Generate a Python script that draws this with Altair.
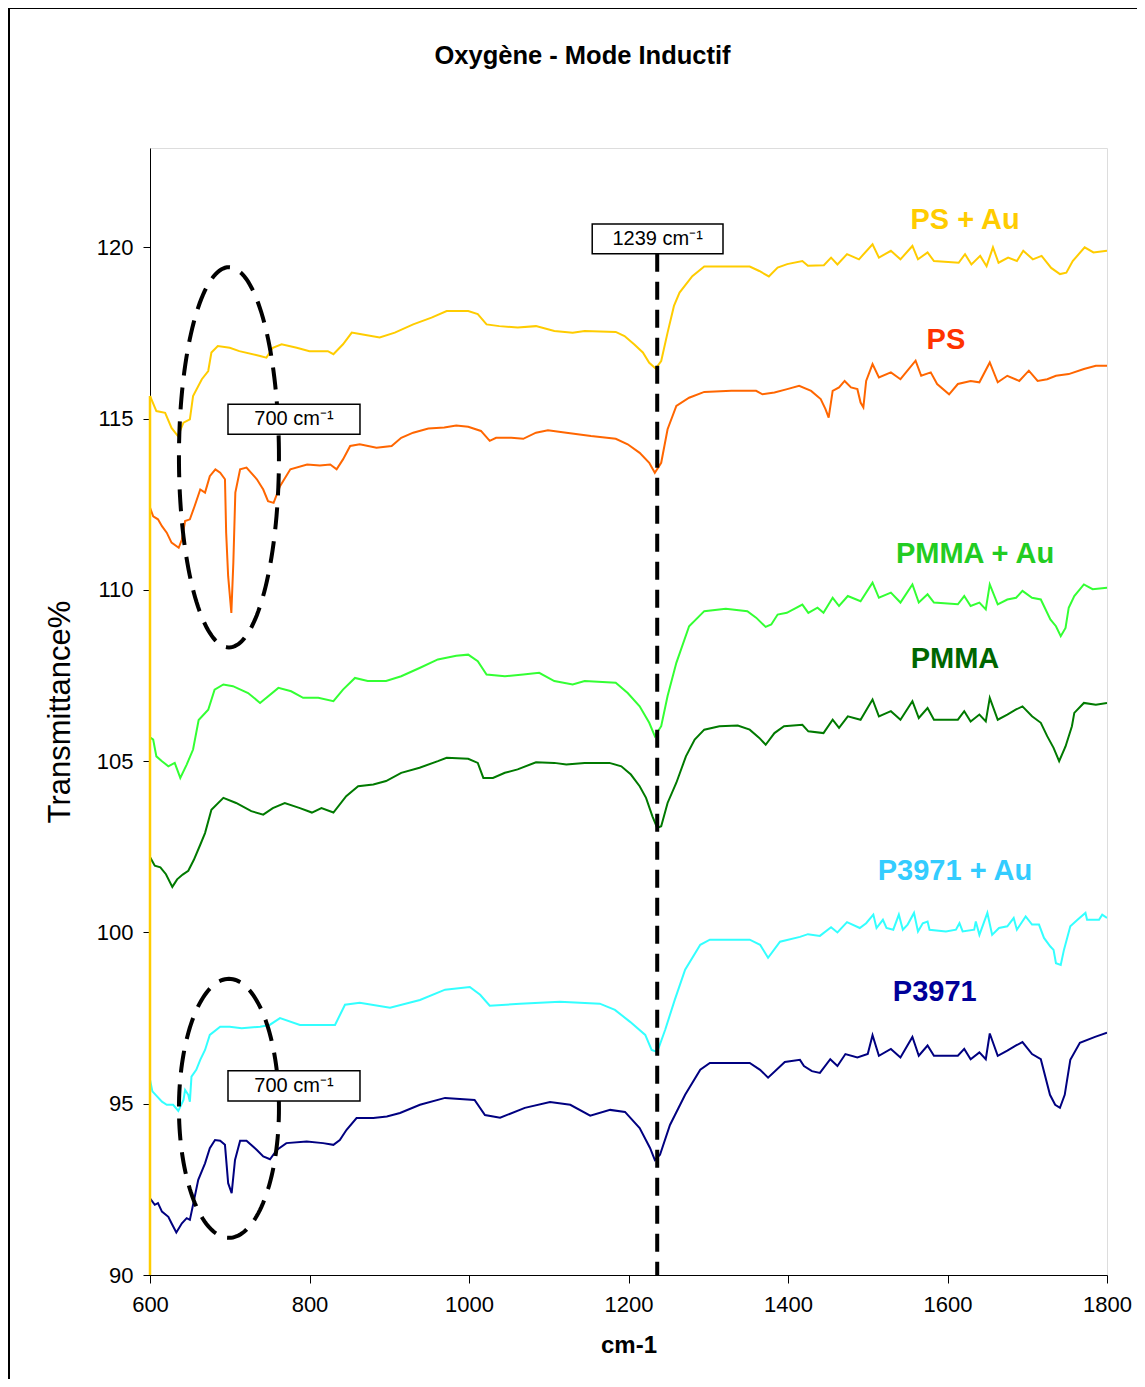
import altair as alt
import pandas as pd
import numpy as np

# ---------------- data ----------------
chart_title = "Oxygène - Mode Inductif"
series_names = ["PS + Au", "PS", "PMMA + Au", "PMMA", "P3971 + Au", "P3971"]

ps_au_x = [600, 608, 619, 627, 635, 642, 650, 654, 665, 673, 677, 685, 700, 712, 738, 746, 754, 765, 784, 800,
           823, 830, 842, 853, 865, 888, 907, 930, 953, 972, 999, 1011, 1022, 1038, 1061, 1084, 1107, 1130, 1145, 1184,
           1195, 1207, 1218, 1226, 1234, 1241, 1249, 1257, 1264, 1280, 1295, 1352, 1364, 1376, 1387, 1399, 1418, 1425, 1445, 1454,
           1462, 1474, 1489, 1506, 1514, 1529, 1541, 1556, 1563, 1575, 1583, 1614, 1622, 1630, 1641, 1649, 1657, 1664, 1676, 1687,
           1695, 1707, 1718, 1730, 1741, 1749, 1757, 1772, 1783, 1800]
ps_au_y = [115.66, 115.22, 115.17, 114.73, 114.49, 114.88, 114.98, 115.66, 116.15, 116.39, 116.93, 117.12, 117.07, 116.97, 116.83, 116.78, 117.07, 117.17, 117.07, 116.97,
           116.97, 116.88, 117.17, 117.51, 117.46, 117.37, 117.51, 117.75, 117.95, 118.14, 118.14, 118.05, 117.75, 117.70, 117.66, 117.70, 117.56, 117.51, 117.56, 117.53,
           117.41, 117.17, 116.93, 116.63, 116.46, 116.68, 117.51, 118.29, 118.68, 119.16, 119.44, 119.44, 119.31, 119.15, 119.41, 119.51, 119.60, 119.46, 119.48, 119.70,
           119.50, 119.80, 119.65, 120.09, 119.70, 119.90, 119.65, 120.04, 119.65, 119.85, 119.60, 119.55, 119.80, 119.50, 119.75, 119.45, 120.00, 119.55, 119.70, 119.60,
           119.90, 119.65, 119.75, 119.40, 119.22, 119.26, 119.60, 120.00, 119.85, 119.90]

ps_x = [600, 604, 610, 615, 621, 627, 636, 640, 644, 650, 656, 663, 669, 675, 682, 688, 694, 695.5, 698, 702,
        704.5, 707, 713, 721, 734, 742, 748, 755, 763, 776, 797, 813, 826, 834, 842, 851, 863, 884, 903, 915,
        930, 949, 969, 984, 999, 1015, 1026, 1034, 1053, 1068, 1084, 1099, 1122, 1153, 1184, 1199, 1214, 1226, 1233, 1241,
        1249, 1260, 1276, 1295, 1329, 1360, 1368, 1383, 1399, 1414, 1429, 1441, 1447, 1451, 1456, 1464, 1471, 1479, 1487, 1491,
        1494.5, 1498, 1506, 1514, 1529, 1541, 1560, 1567, 1579, 1587, 1602, 1613, 1629, 1640, 1653, 1663, 1675, 1690, 1702, 1713,
        1725, 1736, 1752, 1771, 1786, 1800]
ps_y = [112.40, 112.15, 112.06, 111.86, 111.67, 111.38, 111.23, 111.47, 112.01, 112.06, 112.45, 112.93, 112.84, 113.32, 113.52, 113.42, 113.23, 111.67, 110.40, 109.33,
        110.79, 112.84, 113.52, 113.57, 113.23, 112.93, 112.59, 112.54, 113.03, 113.52, 113.66, 113.63, 113.66, 113.52, 113.81, 114.20, 114.25, 114.15, 114.20, 114.44,
        114.59, 114.71, 114.74, 114.80, 114.76, 114.64, 114.35, 114.44, 114.44, 114.41, 114.59, 114.66, 114.59, 114.49, 114.41, 114.25, 114.00, 113.71, 113.42, 113.71,
        114.69, 115.37, 115.61, 115.78, 115.81, 115.81, 115.71, 115.76, 115.86, 115.96, 115.81, 115.57, 115.28, 115.03, 115.81, 115.91, 116.10, 115.91, 115.86, 115.47,
        115.33, 116.10, 116.59, 116.20, 116.35, 116.15, 116.69, 116.25, 116.35, 116.01, 115.71, 116.01, 116.10, 116.06, 116.64, 116.06, 116.25, 116.10, 116.40, 116.10,
        116.15, 116.25, 116.30, 116.45, 116.54, 116.54]

pmma_au_x = [600, 604, 608, 615, 623, 631, 638, 646, 654, 661, 673, 681, 692, 704, 723, 738, 761, 777, 792, 811,
             830, 842, 857, 873, 896, 915, 938, 961, 984, 999, 1011, 1022, 1045, 1068, 1088, 1107, 1130, 1145, 1184, 1199,
             1214, 1226, 1233, 1241, 1249, 1260, 1276, 1295, 1322, 1349, 1360, 1372, 1379, 1387, 1398.5, 1418, 1425.5, 1437, 1444.5, 1456,
             1464, 1475, 1491, 1506, 1514, 1529, 1541, 1556, 1564, 1575, 1583, 1613, 1621, 1629, 1640, 1648, 1653, 1663, 1675, 1686,
             1694, 1706, 1717, 1729, 1736, 1742, 1748, 1752, 1759, 1771, 1782, 1800]
pmma_au_y = [105.70, 105.63, 105.14, 105.00, 104.85, 104.95, 104.51, 104.90, 105.34, 106.20, 106.50, 107.09, 107.24, 107.19, 106.99, 106.70, 107.14, 107.04, 106.85, 106.85,
             106.75, 107.09, 107.43, 107.34, 107.34, 107.48, 107.72, 107.97, 108.08, 108.11, 107.92, 107.53, 107.48, 107.53, 107.58, 107.34, 107.24, 107.34, 107.29, 106.99,
             106.60, 106.12, 105.73, 106.02, 106.90, 107.87, 108.94, 109.38, 109.45, 109.38, 109.19, 108.92, 108.99, 109.28, 109.33, 109.57, 109.33, 109.48, 109.33, 109.77,
             109.53, 109.82, 109.67, 110.21, 109.77, 109.92, 109.63, 110.16, 109.63, 109.87, 109.63, 109.58, 109.82, 109.53, 109.63, 109.43, 110.16, 109.58, 109.72, 109.77,
             109.97, 109.77, 109.72, 109.14, 108.94, 108.65, 108.89, 109.48, 109.82, 110.16, 110.02, 110.06]

pmma_x = [600, 606, 613, 620, 628, 634, 641, 648, 655, 663, 669, 677, 692, 708, 727, 742, 754, 769, 788, 803,
          815, 830, 846, 861, 880, 896, 915, 938, 961, 972, 999, 1011, 1018, 1030, 1045, 1061, 1084, 1107, 1122, 1145,
          1176, 1191, 1203, 1214, 1222, 1230, 1236, 1241, 1249, 1260, 1272, 1283, 1295, 1314, 1337, 1352, 1364, 1372, 1383, 1395,
          1418, 1425.5, 1444.5, 1456, 1464, 1475, 1491, 1506, 1514, 1529, 1541, 1556, 1564, 1575, 1583, 1613, 1621, 1629, 1640, 1648,
          1653, 1663, 1675, 1686, 1694, 1706, 1717, 1725, 1733, 1740, 1748, 1756, 1759, 1771, 1786, 1800]
pmma_y = [102.20, 101.95, 101.90, 101.70, 101.33, 101.55, 101.69, 101.80, 102.12, 102.56, 102.90, 103.58, 103.93, 103.78, 103.54, 103.44, 103.63, 103.78, 103.63, 103.50,
          103.63, 103.50, 103.98, 104.27, 104.32, 104.42, 104.66, 104.81, 105.00, 105.10, 105.07, 104.95, 104.51, 104.51, 104.66, 104.76, 104.97, 104.95, 104.90, 104.95,
          104.95, 104.85, 104.61, 104.27, 103.93, 103.39, 103.05, 103.10, 103.78, 104.37, 105.14, 105.63, 105.92, 106.02, 106.04, 105.92, 105.68, 105.48, 105.82, 106.02,
          106.06, 105.87, 105.82, 106.21, 105.97, 106.31, 106.21, 106.80, 106.31, 106.46, 106.21, 106.75, 106.26, 106.55, 106.21, 106.21, 106.46, 106.16, 106.36, 106.16,
          106.85, 106.21, 106.36, 106.51, 106.60, 106.31, 106.12, 105.73, 105.39, 105.00, 105.43, 106.02, 106.41, 106.70, 106.65, 106.70]

p3971_au_x = [600, 603, 615, 621, 629, 635.5, 642, 644, 648, 650, 652, 658, 663, 669, 675, 688, 700, 715, 738, 750,
              763, 788, 800, 832, 844.5, 863, 901, 938.5, 970, 1001, 1014, 1026, 1064, 1114, 1164, 1183, 1202, 1221, 1229, 1236,
              1246, 1258, 1271, 1290, 1302, 1352, 1365, 1375, 1390, 1415, 1425, 1440, 1454, 1462, 1474, 1490, 1498, 1507, 1511, 1519,
              1523.5, 1532, 1539, 1544, 1550, 1558, 1563, 1569, 1575, 1577.5, 1598, 1610.6, 1615, 1619, 1633.5, 1635.5, 1640, 1650, 1656, 1664.6,
              1675, 1683, 1687, 1698, 1706, 1714.7, 1721, 1729, 1733, 1736, 1742, 1746, 1754, 1763, 1773, 1775, 1790, 1794, 1800]
p3971_au_y = [95.70, 95.36, 95.06, 94.97, 94.97, 94.79, 95.11, 95.40, 95.26, 95.06, 95.79, 95.99, 96.28, 96.57, 97.01, 97.25, 97.25, 97.20, 97.25, 97.30,
              97.50, 97.30, 97.30, 97.30, 97.89, 97.95, 97.80, 98.03, 98.33, 98.41, 98.18, 97.86, 97.92, 97.98, 97.92, 97.74, 97.39, 97.01, 96.57, 96.51,
              97.16, 98.03, 98.91, 99.64, 99.79, 99.79, 99.64, 99.26, 99.73, 99.87, 99.95, 99.90, 100.15, 100.00, 100.30, 100.13, 100.27, 100.52, 100.13, 100.37,
              100.13, 100.08, 100.52, 100.08, 100.23, 100.57, 100.03, 100.27, 100.32, 100.08, 100.03, 100.08, 100.27, 100.03, 100.08, 100.32, 99.93, 100.57, 99.93, 100.13,
              100.18, 100.42, 100.08, 100.47, 100.23, 100.23, 99.84, 99.59, 99.49, 99.10, 99.05, 99.49, 100.18, 100.37, 100.57, 100.37, 100.37, 100.52, 100.42]

p3971_x = [600, 606, 610, 615, 623, 627, 633, 640, 646, 650, 654, 660.5, 669, 675, 681.5, 688, 694, 698, 702.4, 706.6,
           713, 721, 734, 742, 750.5, 759, 771, 796.5, 817, 830, 838, 846.5, 859, 880, 897, 913.5, 938.5, 970, 1007, 1020,
           1039, 1070, 1101.6, 1127, 1152, 1177, 1195.6, 1214, 1227, 1233, 1239.5, 1252, 1271, 1290, 1302, 1352, 1365, 1375, 1396, 1415,
           1420, 1430, 1440, 1453, 1462, 1472, 1487, 1500, 1506, 1514, 1529, 1541, 1556, 1564, 1575, 1583, 1613, 1621, 1629, 1640,
           1648, 1653, 1663, 1675, 1686, 1694, 1706, 1717, 1728.5, 1735, 1741, 1747, 1754, 1766, 1785, 1800]
p3971_y = [92.24, 92.05, 92.10, 91.85, 91.70, 91.51, 91.24, 91.51, 91.66, 91.61, 92.05, 92.78, 93.26, 93.70, 93.94, 93.92, 93.80, 92.68, 92.39, 93.36,
           93.92, 93.92, 93.65, 93.46, 93.38, 93.65, 93.85, 93.90, 93.85, 93.80, 93.94, 94.24, 94.58, 94.58, 94.63, 94.73, 94.97, 95.17, 95.11, 94.67,
           94.59, 94.88, 95.05, 94.97, 94.65, 94.82, 94.76, 94.29, 93.71, 93.36, 93.51, 94.38, 95.26, 95.99, 96.19, 96.19, 95.99, 95.76, 96.22, 96.28,
           96.10, 95.95, 95.90, 96.30, 96.10, 96.45, 96.35, 96.45, 97.00, 96.40, 96.60, 96.35, 96.95, 96.40, 96.70, 96.40, 96.40, 96.60, 96.30, 96.50,
           96.30, 97.05, 96.40, 96.55, 96.70, 96.80, 96.45, 96.30, 95.26, 94.97, 94.88, 95.26, 96.28, 96.78, 96.95, 97.07]

series_x = [ps_au_x, ps_x, pmma_au_x, pmma_x, p3971_au_x, p3971_x]
series_y = [ps_au_y, ps_y, pmma_au_y, pmma_y, p3971_au_y, p3971_y]

line_colors = ["#FFCC00", "#FF6600", "#33FF33", "#007A00", "#33FFFF", "#000080"]
label_colors = ["#FFCC00", "#FF3300", "#22CC22", "#006600", "#33CCFF", "#000099"]
label_x = [1622, 1598, 1634.5, 1609.4, 1609.4, 1584]
label_y = [120.79, 117.29, 111.06, 107.97, 101.80, 98.27]

# annotations
peak_line_x = 1236
box_text = ["1239 cm⁻¹", "700 cm⁻¹", "700 cm⁻¹"]
box_x1 = [1154.5, 697.8, 697.8]
box_x2 = [1318.5, 863.3, 863.3]
box_y1 = [120.68, 115.42, 95.96]
box_y2 = [119.81, 114.54, 95.08]
ell_cx = [699, 699]
ell_cy = [113.87, 94.865]
ell_rx = [62.7, 62.7]
ell_ry = [5.55, 3.78]

X_DOMAIN = [600, 1800]
Y_DOMAIN = [90, 122.9]
FONT = "Liberation Sans"
W, H = 957, 1127

# ---------------- tables ----------------
rows = []
for name, xs, ys in zip(series_names, series_x, series_y):
    for xv, yv in zip(xs, ys):
        rows.append({"series": name, "x": xv, "y": yv})
df = pd.DataFrame(rows)

labels_df = pd.DataFrame({"series": series_names, "x": label_x, "y": label_y})

boxes_df = pd.DataFrame({"t": box_text, "x1": box_x1, "x2": box_x2, "y1": box_y1, "y2": box_y2})
boxes_df["xc"] = (boxes_df.x1 + boxes_df.x2) / 2
boxes_df["yc"] = (boxes_df.y1 + boxes_df.y2) / 2

ell_rows = []
theta = np.linspace(0, 2 * np.pi, 161)
for i in range(len(ell_cx)):
    for k, t in enumerate(theta):
        ell_rows.append({"id": i, "k": k,
                         "x": ell_cx[i] + ell_rx[i] * np.cos(t),
                         "y": ell_cy[i] + ell_ry[i] * np.sin(t)})
ell_df = pd.DataFrame(ell_rows)

vline_df = pd.DataFrame({"x": [peak_line_x], "y": [Y_DOMAIN[0]], "y2": [box_y2[0]]})
ylead_df = pd.DataFrame({"x": [ps_au_x[0]], "y": [Y_DOMAIN[0]], "y2": [ps_au_y[0]]})
title_df = pd.DataFrame({"t": [chart_title]})

xscale = alt.Scale(domain=X_DOMAIN, nice=False, zero=False)
yscale = alt.Scale(domain=Y_DOMAIN, nice=False, zero=False)

xaxis = alt.Axis(values=list(range(600, 1801, 200)), title="cm-1", format="d",
                 labelFontSize=22, labelFont=FONT, labelColor="black", labelPadding=11,
                 tickSize=8, tickColor="black", domainColor="black", grid=False,
                 labelFlush=False, labelOverlap=False,
                 titleFont=FONT, titleFontSize=24, titleFontWeight="bold", titleColor="black",
                 titlePadding=18)
yaxis = alt.Axis(values=list(range(90, 121, 5)), title="Transmittance%", format="d",
                 labelFontSize=22, labelFont=FONT, labelColor="black", labelPadding=10,
                 tickSize=7, tickColor="black", domainColor="black", grid=False,
                 titleFont=FONT, titleFontSize=31, titleFontWeight="normal", titleColor="black",
                 titlePadding=20)

lines = alt.Chart(df).mark_line(strokeWidth=2, clip=True).encode(
    x=alt.X("x:Q", scale=xscale, axis=xaxis),
    y=alt.Y("y:Q", scale=yscale, axis=yaxis),
    color=alt.Color("series:N", scale=alt.Scale(domain=series_names, range=line_colors), legend=None),
)

ylead = alt.Chart(ylead_df).mark_rule(color="#FFCC00", strokeWidth=2.5).encode(
    x="x:Q", y="y:Q", y2="y2:Q")

vline = alt.Chart(vline_df).mark_rule(color="black", strokeWidth=4, strokeDash=[18, 10]).encode(
    x="x:Q", y="y2:Q", y2="y:Q")

ellipses = alt.Chart(ell_df).mark_line(color="black", strokeWidth=4, strokeDash=[22, 12]).encode(
    x="x:Q", y="y:Q", detail="id:N", order="k:Q")

boxes = alt.Chart(boxes_df).mark_rect(fill="white", stroke="black", strokeWidth=1.5).encode(
    x="x1:Q", x2="x2:Q", y="y1:Q", y2="y2:Q")

box_labels = alt.Chart(boxes_df).mark_text(font=FONT, fontSize=20, color="black").encode(
    x="xc:Q", y="yc:Q", text="t:N")

series_labels = alt.Chart(labels_df).mark_text(font=FONT, fontSize=29, fontWeight="bold").encode(
    x="x:Q", y="y:Q", text="series:N",
    color=alt.Color("series:N", scale=alt.Scale(domain=series_names, range=label_colors), legend=None),
)

# chart title, placed above the plot area (page x≈583, y≈56)
title_mark = alt.Chart(title_df).mark_text(font=FONT, fontSize=25.5, fontWeight="bold", color="black",
                                           align="center", baseline="middle").encode(
    x=alt.value(W / 2 - 46), y=alt.value(-92), text="t:N")

# outer chart-area frame (its right and bottom edges fall outside the page, as in the reference)
frame = alt.Chart(pd.DataFrame({"a": [0]})).mark_rect(filled=False, stroke="black", strokeWidth=2).encode(
    x=alt.value(-141), y=alt.value(-140), x2=alt.value(1200), y2=alt.value(1400))

chart = alt.layer(lines, ylead, vline, ellipses, boxes, box_labels, series_labels, title_mark, frame).resolve_scale(
    color="independent"
).properties(
    width=W, height=H,
    autosize=alt.AutoSizeParams(type="none"),
    padding={"left": 142, "top": 140, "right": 30, "bottom": 104},
).configure_view(stroke="#333333", strokeWidth=1.5).configure(background="white")

chart.save("out.html", embed_options={"renderer": "svg", "actions": False})
